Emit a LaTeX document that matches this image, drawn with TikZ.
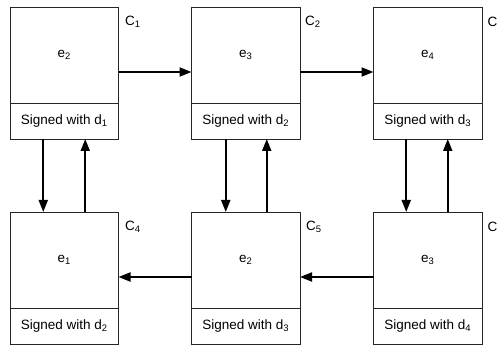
\documentclass[tikz,border=0pt]{standalone}
\usepackage{fontspec}
\setmainfont{Liberation Sans}
\usetikzlibrary{arrows.meta}
\newcommand{\sbs}[1]{\textsubscript{#1}}
\begin{document}
\begin{tikzpicture}[x=1pt,y=1pt,
  font=\fontsize{13.5}{16}\selectfont,
  upper/.style={draw=black!85,line width=0.9pt,minimum width=108.5pt,minimum height=96pt,inner sep=0pt,outer sep=0pt},
  lower/.style={draw=black!85,line width=0.9pt,minimum width=108.5pt,minimum height=36pt,inner sep=0pt,outer sep=0pt},
  clabel/.style={anchor=west,inner sep=0pt},
  flow/.style={line width=2pt,-{Triangle[length=12pt,width=9pt]}}]
\useasboundingbox (0,0) rectangle (499,-345);
% top row
\node[upper] (u1) at (64.25,-55) {e\sbs{2}};
\node[lower] (s1) at (64.25,-121) {Signed with d\sbs{1}};
\node[upper] (u2) at (245.75,-55) {e\sbs{3}};
\node[lower] (s2) at (245.75,-121) {Signed with d\sbs{2}};
\node[upper] (u3) at (427.75,-55) {e\sbs{4}};
\node[lower] (s3) at (427.75,-121) {Signed with d\sbs{3}};
% bottom row
\node[upper] (u4) at (64.25,-260) {e\sbs{1}};
\node[lower] (s4) at (64.25,-326) {Signed with d\sbs{2}};
\node[upper] (u5) at (245.75,-260) {e\sbs{2}};
\node[lower] (s5) at (245.75,-326) {Signed with d\sbs{3}};
\node[upper] (u6) at (427.75,-260) {e\sbs{3}};
\node[lower] (s6) at (427.75,-326) {Signed with d\sbs{4}};
% labels
\node[clabel] (l1) at (125,-22) {C\sbs{1}};
\node[clabel] (l2) at (305,-22) {C\sbs{2}};
\node[clabel] (l3) at (487.5,-22) {C};
\node[clabel] (l4) at (125,-227) {C\sbs{4}};
\node[clabel] (l5) at (306,-227) {C\sbs{5}};
\node[clabel] (l6) at (487.5,-227) {C};
% horizontal arrows
\draw[flow] ([yshift=-17pt]u1.east) -- ([yshift=-17pt]u2.west);
\draw[flow] ([yshift=-17pt]u2.east) -- ([yshift=-17pt]u3.west);
\draw[flow] ([yshift=-17pt]u6.west) -- ([yshift=-17pt]u5.east);
\draw[flow] ([yshift=-17pt]u5.west) -- ([yshift=-17pt]u4.east);
% vertical arrows
\draw[flow] ([xshift=-21pt]s1.south) -- ([xshift=-21pt]u4.north);
\draw[flow] ([xshift=21pt]u4.north) -- ([xshift=21pt]s1.south);
\draw[flow] ([xshift=-20pt]s2.south) -- ([xshift=-20pt]u5.north);
\draw[flow] ([xshift=21pt]u5.north) -- ([xshift=21pt]s2.south);
\draw[flow] ([xshift=-21.5pt]s3.south) -- ([xshift=-21.5pt]u6.north);
\draw[flow] ([xshift=20pt]u6.north) -- ([xshift=20pt]s3.south);
\end{tikzpicture}
\end{document}
